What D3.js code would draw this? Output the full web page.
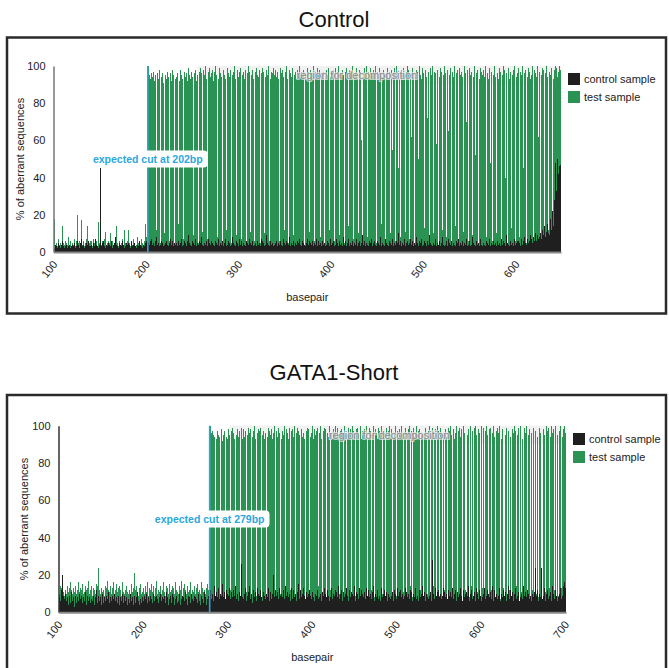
<!DOCTYPE html>
<html><head><meta charset="utf-8">
<script src="https://cdn.jsdelivr.net/npm/d3@7/dist/d3.min.js"></script>
<style>html,body{margin:0;padding:0;background:#fff;}svg{display:block;}</style>
</head><body>
<script>
// ---------- DATA ----------
const panelTitles = ["Control", "GATA1-Short"];
const legendLabels = ["control sample", "test sample"];
const yTicks = [0, 20, 40, 60, 80, 100];
const topXTicks = [100, 200, 300, 400, 500, 600];
const bottomXTicks = [100, 200, 300, 400, 500, 600, 700];
const cutLabels = ["expected cut at 202bp", "expected cut at 279bp"];
const cutSites = [202, 279];
const bandLabel = "region for decomposition";
const topStartBp = 100;
const bottomStartBp = 100;
const topDomain = [100, 649];
const bottomDomain = [100, 701];
const topBand = [256, 649];
const bottomBand = [303, 701];

// Control panel, control sample (% aberrant) bp 100..648
const topControl = [
3,2,4,3,2,5,3,2,4,6,3,2,3,5,4,2,3,4,2,3,
4,3,5,2,3,6,4,3,2,5,7,3,4,2,3,5,4,6,3,2,
3,4,2,5,3,7,4,3,2,4,45,3,5,4,6,3,2,4,3,5,
4,3,6,2,4,5,3,8,4,3,2,5,4,3,6,4,2,3,5,4,
3,5,4,2,6,3,4,5,3,2,4,3,5,6,4,3,2,4,3,5,6,4,
5,4,6,3,7,4,5,3,6,8,4,5,3,4,6,5,3,7,4,5,
6,4,3,5,7,4,6,3,5,4,8,5,3,6,4,5,7,3,4,6,
5,3,6,4,9,5,4,3,6,5,4,7,3,5,4,6,3,5,8,4,
3,5,4,6,3,7,5,4,6,3,5,4,3,6,5,4,7,3,5,4,
6,3,5,4,7,3,4,6,5,3,4,8,5,4,3,6,4,5,3,7,
4,6,3,5,4,3,6,5,4,7,3,5,4,6,3,4,5,3,6,4,
5,3,7,4,6,5,3,4,9,5,4,3,6,4,5,3,7,4,5,6,
3,5,4,6,4,3,7,5,4,3,6,5,4,8,3,5,4,6,3,5,
4,6,3,5,7,4,3,6,5,4,3,5,7,4,6,3,5,4,6,3,
5,4,7,3,6,4,5,3,6,8,4,5,3,4,6,5,3,7,4,5,
6,3,5,4,7,5,3,6,4,5,3,8,4,6,3,5,4,7,3,5,
4,6,3,5,4,7,3,5,6,4,3,5,9,4,6,3,5,4,3,6,
5,4,7,3,5,6,4,3,6,5,4,8,3,5,4,6,3,7,5,4,
3,6,5,4,7,3,5,4,6,3,5,10,4,6,3,5,4,7,3,5,
6,4,3,5,7,4,6,3,5,4,8,5,3,6,4,5,7,3,4,6,
5,3,6,4,9,5,4,3,6,5,4,7,3,5,4,6,3,5,8,4,
3,5,4,6,3,7,5,4,6,3,5,4,3,6,5,4,7,3,5,4,
6,3,5,4,7,3,4,6,5,3,4,8,5,4,3,6,4,5,3,7,
4,6,3,5,4,3,6,5,4,7,3,5,4,6,3,4,5,3,6,4,
5,3,7,4,6,5,3,4,9,5,4,3,6,4,5,3,7,4,5,6,
4,6,5,3,7,4,6,8,5,4,7,5,6,9,4,7,5,8,6,10,
6,9,7,8,10,7,12,8,9,14,8,11,15,10,9,18,12,22,14,28,
26,48,33,50,42,46,47
];

// Control panel, test sample bp 100..648
const topTest = [
6,18,4,5,3,7,4,5,3,14,5,4,6,3,5,4,8,4,6,3,
5,4,7,3,6,20,5,4,6,5,17,4,6,3,5,7,14,4,5,6,
4,6,3,7,5,4,6,3,16,5,5,4,6,3,5,7,11,4,5,6,
5,10,4,6,3,5,7,4,14,5,3,6,4,5,7,4,12,5,3,6,
4,12,5,3,6,4,7,5,3,4,8,5,3,6,4,7,5,3,6,15,8,12,
100,95,93,96,8,94,97,92,95,12,96,93,98,5,94,96,91,97,10,95,
93,97,94,6,96,92,98,95,4,93,97,94,96,15,92,98,95,93,7,97,
94,96,92,99,6,95,93,97,94,9,96,98,92,95,5,97,94,99,96,11,
98,95,100,93,7,97,99,94,96,4,98,92,97,100,95,8,93,99,96,94,
6,98,95,97,93,12,99,96,94,98,5,95,97,100,93,9,96,98,94,97,
99,7,95,97,93,98,4,96,100,94,97,11,95,98,93,6,97,99,95,94,
98,5,96,93,99,97,10,94,98,95,100,6,93,97,96,99,8,95,98,94,
97,93,6,99,96,98,94,12,97,95,100,93,5,98,96,94,99,9,95,97,
93,98,96,7,100,94,97,95,98,4,96,93,99,97,11,95,98,94,96,100,
6,97,93,99,95,98,8,96,94,100,97,5,93,98,95,99,12,94,97,96,
98,6,95,99,93,97,100,9,96,94,98,95,5,97,99,93,96,14,98,95,
97,100,7,94,96,99,93,10,98,95,97,60,6,96,99,94,100,8,97,93,
99,96,12,95,98,94,100,5,97,93,99,96,15,94,98,100,95,7,96,99,
93,97,10,98,55,96,99,6,94,100,97,45,93,8,98,96,99,94,11,97,
100,95,98,7,93,62,99,96,5,94,98,97,50,100,9,95,93,99,96,13,
98,94,72,97,6,99,95,100,93,10,97,96,58,98,4,94,99,97,12,95,
100,93,96,8,98,65,95,99,5,97,94,100,14,96,93,98,7,99,95,97,
94,11,100,96,70,98,6,93,99,95,97,9,94,100,52,96,98,5,93,99,
97,12,95,98,94,100,8,96,93,99,48,97,6,95,98,100,94,10,96,93,
99,97,7,95,100,98,40,94,96,5,99,93,97,13,95,98,100,6,94,96,
93,99,8,97,95,100,45,96,98,5,94,99,97,11,93,95,100,7,98,96,
94,100,62,97,9,95,99,93,98,6,96,100,94,12,97,95,99,8,93,98,
100,96,99,94,97,100,98
];

// GATA1-Short panel, control sample bp 100..700
const bottomControl = [
4,8,6,12,20,9,5,7,10,6,8,4,9,7,5,11,6,8,3,7,
9,5,8,6,10,4,7,9,5,8,6,11,7,4,9,6,8,5,10,7,
6,9,4,8,7,12,5,9,6,8,4,7,10,5,8,6,9,4,7,11,
5,8,6,9,4,7,10,6,8,5,9,7,4,8,6,10,5,7,9,6,
8,4,7,9,5,10,6,8,4,7,9,5,8,11,6,4,9,7,5,8,
6,9,4,7,10,5,8,6,9,4,7,5,10,6,8,4,9,7,5,8,
10,6,4,8,7,9,5,11,6,8,4,7,9,5,10,6,8,4,7,9,
5,8,6,10,4,7,9,5,8,6,11,7,4,9,6,8,5,10,7,6,
9,4,8,7,5,10,6,8,4,9,7,5,11,6,8,4,7,9,6,
8,12,7,10,6,14,9,5,11,8,13,7,10,6,9,15,8,11,7,12,
6,10,9,13,7,11,8,5,12,9,14,7,10,8,6,11,9,26,8,12,
7,10,13,6,9,11,8,14,7,10,5,12,9,8,11,6,13,10,7,9,
12,8,6,11,9,14,7,10,8,13,6,9,11,7,10,20,8,12,6,9,
11,7,13,9,6,10,8,12,7,14,9,5,11,8,10,6,13,9,7,12,
8,10,6,11,9,15,7,12,8,10,6,13,9,7,11,8,10,5,12,9,
7,11,8,13,6,10,9,12,7,14,8,10,6,11,9,13,7,10,8,12,
9,6,11,8,13,7,10,9,12,6,11,8,14,7,10,9,12,6,11,8,
10,7,13,9,6,12,8,11,7,10,9,14,6,11,8,10,7,13,9,12,
6,10,8,11,7,13,9,6,12,8,10,7,11,9,14,6,10,8,12,7,
11,9,6,13,8,10,7,12,9,11,6,10,8,14,7,9,11,6,12,8,
10,7,13,9,11,6,12,8,10,7,9,13,6,11,8,10,7,12,9,11,
6,10,8,13,7,11,9,6,12,8,10,7,14,9,11,6,10,8,12,7,
9,11,6,28,8,10,7,13,9,11,6,12,8,10,7,9,13,6,11,8,
10,7,12,9,6,11,8,13,7,10,9,12,6,11,8,10,7,13,9,6,
12,8,10,7,11,9,14,6,10,8,12,7,9,11,6,13,8,10,7,12,
9,6,11,8,10,13,7,9,12,6,10,8,11,7,14,9,6,12,8,10,
7,11,9,13,6,10,8,12,7,9,11,6,10,14,8,7,12,9,11,6,
10,8,13,7,9,11,6,12,8,10,7,14,9,6,11,8,12,10,7,9,
13,6,10,8,11,24,7,9,12,6,10,8,24,11,7,9,13,6,10,8,
12,7,9,11,6,14,8,10,7,12,9,6,11,8,10,13,7,9,12,14,
16,13
];

// GATA1-Short panel, test sample bp 100..700
const bottomTest = [
12,10,14,13,8,11,15,9,12,10,14,11,13,9,16,12,10,13,11,9,
14,10,12,16,11,9,13,12,15,10,11,14,9,12,13,17,10,12,11,14,
9,13,12,10,15,11,14,24,12,10,13,16,11,12,9,14,13,10,17,12,
11,14,10,13,12,16,9,12,15,11,13,10,14,12,9,16,11,13,10,12,
14,11,10,13,12,9,15,11,13,10,21,12,14,11,9,13,12,15,10,11,
13,10,14,12,11,16,9,13,12,10,15,11,14,9,13,12,17,10,12,11,
14,10,13,12,16,11,9,14,12,13,10,15,11,12,9,14,13,10,16,12,
11,13,10,14,12,17,9,13,11,15,12,10,14,11,13,12,16,10,12,11,
14,12,10,13,15,11,12,14,10,16,13,11,12,14,10,13,15,12,16,
100,99,96,97,95,94,8,96,93,97,95,94,10,98,96,92,95,97,6,94,
96,93,98,95,12,97,94,99,96,93,7,95,98,96,94,97,5,99,93,96,
98,94,97,11,95,99,93,96,98,6,94,97,95,100,93,9,96,98,94,97,
99,8,95,97,93,98,96,5,94,99,97,95,13,98,93,96,100,7,95,97,
94,99,96,10,98,93,97,95,100,6,94,98,96,93,99,12,97,95,98,94,
100,5,96,93,99,97,95,9,98,94,100,96,93,7,97,99,95,98,11,94,
96,100,93,6,98,95,97,99,14,94,96,100,93,8,97,95,99,98,5,96,
94,100,97,12,95,93,98,96,7,100,94,99,95,10,97,93,98,96,6,100,
95,97,13,94,99,96,98,5,93,100,97,95,9,98,94,99,96,7,100,93,
97,11,95,98,94,100,6,96,93,99,97,12,95,100,94,8,98,96,93,99,
5,97,95,100,10,94,98,96,7,99,93,97,100,13,95,98,6,94,96,99,
100,9,97,93,98,5,95,100,96,11,94,99,97,6,93,98,100,14,95,97,
8,99,94,96,100,5,93,97,98,12,95,100,94,7,96,99,93,10,98,97,
100,6,95,99,96,14,94,98,5,100,97,93,9,99,96,8,95,100,12,98,
94,6,99,97,11,100,95,7,98,93,13,96,100,5,97,99,10,94,98,6,
100,96,12,99,5,95,98,8,100,93,14,97,6,99,100,9,95,11,98,96,
7,100,94,13,99,5,97,100,10,95,6,98,99,12,96,8,100,94,5,97,
99,11,96,100,7,93,98,13,100,6,95,99,9,97,100,12,94,8,98,96,
5,100,97,14,95,99,6,98,100,11,93,7,99,96,13,100,5,95,98,9,
100,96,12,99,6,97,100,10,94,8,99,96,14,100,5,98,95,11,100,7,
97,99,13,94,100,6,96,98,12,100,5,95,99,9,97,100,13,94,98,8,
100,96
];

// ---------- DRAW ----------
const W = 669, H = 668;
const FONT = "'Liberation Sans', Arial, Helvetica, sans-serif";
const GREEN = "#2a9252", BLACK = "#1f1f1f", BLUE = "#2aa8dc";

const svg = d3.select("body").append("svg").attr("width", W).attr("height", H)
  .style("font-family", FONT);

const panels = [
  { title: panelTitles[0], titleY: 27, box: [7, 37.5, 659, 276],
    plot: { x0: 53.5, x1: 561, y0: 252, y1: 66 }, domain: topDomain, start: topStartBp,
    control: topControl, test: topTest, xTicks: topXTicks, cut: cutSites[0], cutLabel: cutLabels[0],
    band: topBand, legendX: 568, legendY: 73, yLabelX: 24, axisColor: "#777" },
  { title: panelTitles[1], titleY: 380, box: [7, 395, 659, 290],
    plot: { x0: 58.5, x1: 566, y0: 612.3, y1: 425.7 }, domain: bottomDomain, start: bottomStartBp,
    control: bottomControl, test: bottomTest, xTicks: bottomXTicks, cut: cutSites[1], cutLabel: cutLabels[1],
    band: bottomBand, legendX: 573, legendY: 433, yLabelX: 28, axisColor: "#333" }
];

panels.forEach(p => {
  const g = svg.append("g");
  g.append("text").attr("x", 334).attr("y", p.titleY).attr("text-anchor", "middle")
    .attr("font-size", 22).attr("fill", "#111").text(p.title);
  g.append("rect").attr("x", p.box[0]).attr("y", p.box[1]).attr("width", p.box[2]).attr("height", p.box[3])
    .attr("fill", "none").attr("stroke", "#2a2a2a").attr("stroke-width", 2.5);

  const x = d3.scaleLinear().domain(p.domain).range([p.plot.x0, p.plot.x1]);
  const y = d3.scaleLinear().domain([0, 100]).range([p.plot.y0, p.plot.y1]);
  const step = x(p.start + 1) - x(p.start);

  // decomposition band
  g.append("rect").attr("x", x(p.band[0])).attr("y", y(100))
    .attr("width", x(p.band[1]) - x(p.band[0])).attr("height", y(90) - y(100)).attr("fill", "#f1f1f1");

  const testData = p.test.map((v, i) => ({ bp: p.start + i, v }));
  const ctrlData = p.control.map((v, i) => ({ bp: p.start + i, v }));

  g.append("g").attr("shape-rendering", "crispEdges").selectAll("rect").data(testData).join("rect")
    .attr("x", d => x(d.bp)).attr("width", step + 0.05)
    .attr("y", d => y(d.v)).attr("height", d => y(0) - y(d.v)).attr("fill", GREEN);
  g.append("g").attr("shape-rendering", "crispEdges").selectAll("rect").data(ctrlData).join("rect")
    .attr("x", d => x(d.bp)).attr("width", step + 0.05)
    .attr("y", d => y(d.v)).attr("height", d => y(0) - y(d.v)).attr("fill", BLACK);

  // band label
  g.append("text").attr("x", x(p.band[0]) + 99).attr("y", y(95) + 4)
    .attr("font-size", 11).attr("fill", "#8a8a8a")
    .attr("stroke", "rgba(235,235,235,0.75)").attr("stroke-width", 2.2).attr("paint-order", "stroke")
    .text(bandLabel);

  // axes
  const yAxis = d3.axisLeft(y).tickValues(yTicks).tickSize(0).tickPadding(8);
  const ya = g.append("g").attr("transform", `translate(${p.plot.x0},0)`).call(yAxis);
  ya.select(".domain").attr("stroke", p.axisColor).attr("stroke-width", 1.5);
  ya.selectAll("text").attr("font-size", 11).attr("fill", "#222").style("font-family", FONT);

  const xAxis = d3.axisBottom(x).tickValues(p.xTicks).tickSize(0).tickPadding(0);
  const xa = g.append("g").attr("transform", `translate(0,${p.plot.y0})`).call(xAxis);
  xa.select(".domain").attr("stroke", "#888").attr("stroke-width", 2);
  xa.selectAll("text").attr("font-size", 11).attr("fill", "#222").style("font-family", FONT)
    .attr("text-anchor", "end").attr("dy", "0.35em")
    .attr("transform", "translate(1,10) rotate(-52)");

  // axis titles
  g.append("text").attr("transform", `translate(${p.yLabelX},${(p.plot.y0 + p.plot.y1) / 2}) rotate(-90)`)
    .attr("text-anchor", "middle").attr("font-size", 11).attr("fill", "#222").text("% of aberrant sequences");
  g.append("text").attr("x", (p.plot.x0 + p.plot.x1) / 2).attr("y", p.plot.y0 + 49)
    .attr("text-anchor", "middle").attr("font-size", 11).attr("fill", "#222").text("basepair");

  // cut line and label
  g.append("line").attr("x1", x(p.cut)).attr("x2", x(p.cut)).attr("y1", y(0)).attr("y2", y(100))
    .attr("stroke", BLUE).attr("stroke-width", 1.6);
  const lab = g.append("g").attr("transform", `translate(${x(p.cut)},${y(50)})`);
  const bg = lab.append("rect").attr("fill", "#fff").attr("rx", 4);
  const t = lab.append("text").attr("text-anchor", "middle").attr("dy", "0.35em")
    .attr("font-size", 10.5).attr("font-weight", "bold").attr("fill", BLUE).text(p.cutLabel);
  const tw = t.node().getComputedTextLength();
  bg.attr("x", -tw / 2 - 5).attr("y", -8.5).attr("width", tw + 10).attr("height", 17);

  // legend
  const leg = g.append("g").attr("transform", `translate(${p.legendX},${p.legendY})`);
  [BLACK, GREEN].forEach((c, i) => {
    leg.append("rect").attr("x", 0).attr("y", i * 18).attr("width", 12).attr("height", 12).attr("fill", c);
    leg.append("text").attr("x", 16).attr("y", i * 18 + 6).attr("dy", "0.35em")
      .attr("font-size", 11).attr("fill", "#222").text(legendLabels[i]);
  });
});
</script>
</body></html>
